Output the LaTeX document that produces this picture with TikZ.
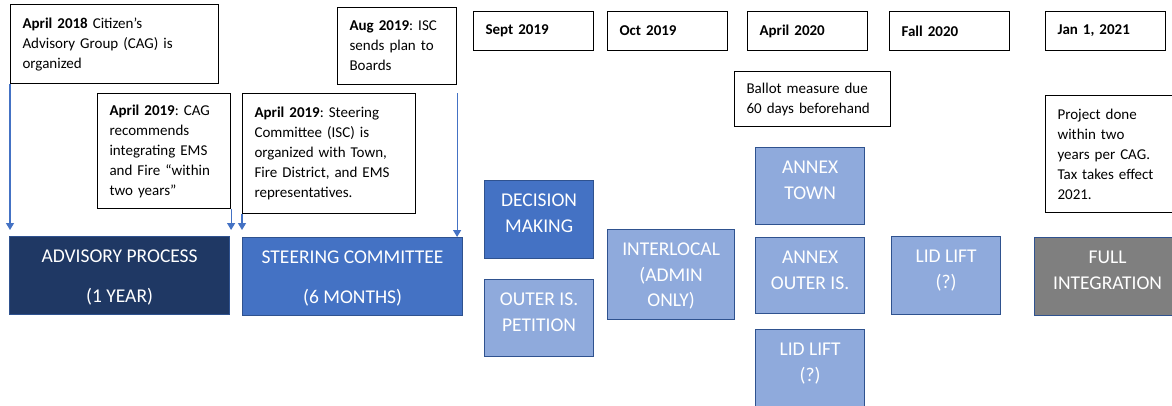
\documentclass[tikz,border=0pt]{standalone}
\usepackage{fontspec}
\setmainfont{Carlito}
\usetikzlibrary{arrows.meta}
\frenchspacing

\definecolor{navy}{HTML}{1F3864}
\definecolor{midblue}{HTML}{4472C4}
\definecolor{lightblue}{HTML}{8FAADC}
\definecolor{edgeblue}{HTML}{2F528F}
\definecolor{stepgray}{HTML}{7F7F7F}

\tikzset{
	note/.style={shape=rectangle, draw=black, line width=1.1pt, fill=white, anchor=north west,
		align=left, inner xsep=12pt, inner ysep=0pt, font=\fontsize{15}{20}\selectfont},
	datebox/.style={note, text width=96pt, minimum height=39pt, font=\fontsize{15}{20}\selectfont\bfseries},
	phase/.style={shape=rectangle, draw=edgeblue, line width=1.2pt, anchor=north west, inner sep=0pt},
	phasetext/.style={anchor=north, yshift=-14pt, align=center, text=white, inner sep=0pt,
		font=\fontsize{19.5}{25.5}\selectfont},
	arr/.style={draw=midblue, line width=1.2pt, -{Triangle[width=8pt,length=7pt]}}
}

\begin{document}
\begin{tikzpicture}[x=1pt, y=-1pt]
	\useasboundingbox (0, 0) rectangle (1172, 406);
	\clip (0, 0) rectangle (1172, 406);
	
	\node[note, text width=184pt, minimum height=79pt] (cag) at (10, 4) {\textbf{April 2018} Citizen’s\\Advisory Group (CAG) is\\organized};
	\node[note, text width=109pt, minimum height=115pt] (rec) at (97, 93) {\textbf{April 2019}: CAG\\recommends\\integrating EMS\\and Fire “within\\two years”};
	\node[note, text width=149pt, minimum height=120pt] (isc) at (242, 93) {\textbf{April 2019}: Steering\\Committee (ISC) is\\organized with Town,\\Fire District, and EMS\\representatives.};
	\node[note, text width=95pt, minimum height=77pt] (bds) at (337, 7) {\textbf{Aug 2019}: ISC\\sends plan to\\Boards};
	
	\node[datebox] (sep) at (473, 11)  {Sept 2019};
	\node[datebox] (oct) at (607, 11)  {Oct 2019};
	\node[datebox] (apr) at (747, 11)  {April 2020};
	\node[datebox] (fall) at (889, 11) {Fall 2020};
	\node[datebox] (jan) at (1045, 11) {Jan 1, 2021};
	
	\node[note, text width=132pt, minimum height=55pt] (ballot) at (734, 71) {Ballot measure due\\60 days beforehand};
	\node[note, text width=111pt, minimum height=117pt] (done) at (1045, 95) {Project done\\within two\\years per CAG.\\Tax takes effect\\2021.};
	
	\node[phase, fill=navy, minimum width=220pt, minimum height=78pt, label={[phasetext]north:ADVISORY PROCESS\\[14.5pt](1 YEAR)}] (adv) at (9, 236) {};
	\node[phase, fill=midblue, minimum width=220pt, minimum height=78pt, label={[phasetext]north:STEERING COMMITTEE\\[14.5pt](6 MONTHS)}] (stc) at (242, 237) {};
	
	\node[phase, fill=midblue, minimum width=109pt, minimum height=78pt, label={[phasetext]north:DECISION\\MAKING}] (dm) at (484, 180) {};
	\node[phase, fill=lightblue, minimum width=109pt, minimum height=77pt, label={[phasetext]north:OUTER IS.\\PETITION}] (pet) at (484, 279) {};
	
	\node[phase, fill=lightblue, minimum width=127pt, minimum height=90pt, label={[phasetext]north:INTERLOCAL\\(ADMIN\\ONLY)}] (inter) at (607, 229) {};
	
	\node[phase, fill=lightblue, minimum width=109pt, minimum height=77pt, label={[phasetext]north:ANNEX\\TOWN}] (atown) at (755, 147) {};
	\node[phase, fill=lightblue, minimum width=109pt, minimum height=76pt, label={[phasetext]north:ANNEX\\OUTER IS.}] (aouter) at (755, 237) {};
	\node[phase, fill=lightblue, minimum width=109pt, minimum height=91pt, label={[phasetext]north:LID LIFT\\(?)}] (lid1) at (755, 329) {};
	
	\node[phase, fill=lightblue, minimum width=109pt, minimum height=78pt, label={[phasetext]north:LID LIFT\\(?)}] (lid2) at (891, 236) {};
	
	\node[phase, fill=stepgray, minimum width=146pt, minimum height=78pt, label={[phasetext]north:FULL\\INTEGRATION}] (full) at (1034, 237) {};
	
	\coordinate (e1) at (10, 230);
	
	\draw[arr] (cag.south west) -- (e1);
	\draw[arr] (rec.south east) -- (rec.south east |- e1);
	\draw[arr] (isc.south west) -- (isc.south west |- e1);
	\draw[arr] ([yshift=-8pt]bds.south east) -- (bds.south east |- stc.north);
\end{tikzpicture}
\end{document}
